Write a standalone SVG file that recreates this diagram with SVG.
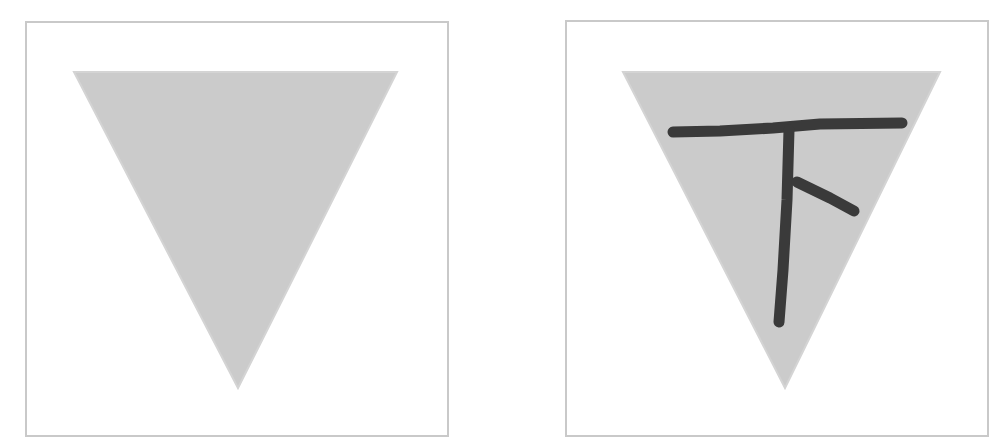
<svg xmlns="http://www.w3.org/2000/svg" width="990" height="439" viewBox="0 0 990 439">
<style>
.frame{fill:#ffffff;stroke:#c9c9c9;stroke-width:2}
.tri{fill:#cbcbcb;stroke:#d4d4d4;stroke-width:2;stroke-linejoin:miter}
.ink{fill:none;stroke:#3a3a3a;stroke-width:11;stroke-linecap:round;stroke-linejoin:round}
</style>
<rect width="990" height="439" fill="#ffffff"/>
<g id="panel-left">
<rect class="frame" x="26" y="22" width="422" height="414"/>
<polygon class="tri" points="74,72 397,72 238,388"/>
</g>
<g id="panel-right">
<rect class="frame" x="566" y="21" width="422" height="415"/>
<polygon class="tri" points="623,72 940,72 785,388"/>
<g id="character">
<path class="ink" d="M673,132 L720,131 L773,128 L820,124 L902,123"/>
<path class="ink" d="M789,130 L787,200 L783,270 L779,322"/>
<path class="ink" d="M797,182 L830,198 L854,211"/>
</g>
</g>
</svg>
